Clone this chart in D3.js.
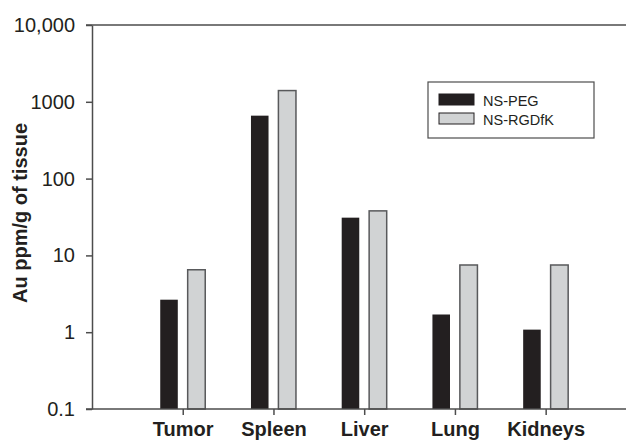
<!DOCTYPE html>
<html lang="en">
  <head>
    <meta charset="UTF-8"/>
    <title>Au biodistribution</title>
    <script src="https://d3js.org/d3.v7.min.js"></script>
    <style>
        body {
          margin: 0;
          font-family: "Liberation Sans", Arial, sans-serif;
        }
        .axis path,
        .axis line {
          fill: none;
          stroke: #4d4d4d;
          stroke-width: 1.5;
        }
        .axis text {
          fill: #231f20;
          font-family: "Liberation Sans", Arial, sans-serif;
        }
    </style>
  </head>
  <body>
    <script>
        // data
        const categories = ["Tumor", "Spleen", "Liver", "Lung", "Kidneys"]
        const series = ["NS-PEG", "NS-RGDfK"]
        const pegValues = [2.65, 660, 31, 1.7, 1.08]
        const rgdValues = [6.5, 1400, 38, 7.5, 7.5]
        const yTicks = [0.1, 1, 10, 100, 1000, 10000]
        const yTickLabels = ["0.1", "1", "10", "100", "1000", "10,000"]
        const colors = ["#231f20", "#d1d3d4"]

        const svgWidth = 626,
          svgHeight = 440,
          plotLeft = 92,
          plotTop = 25,
          plotBottom = 409

        const svg = d3.select("body").append("svg")
            .attr("width", svgWidth)
            .attr("height", svgHeight)

        // log y scale, one decade ~77px
        const y = d3.scaleLog()
            .domain([0.1, 10000])
            .range([plotBottom, plotTop])

        // category positions, one empty slot either side
        const x = d3.scalePoint()
            .domain(categories)
            .range([plotLeft, 636.4])
            .padding(1)

        // offset of each series inside a group
        const xs = d3.scaleBand()
            .domain(series)
            .range([-22.5, 22.5])
            .paddingInner(0.36)

        const rows = categories.map((c, i) => ({cat: c, values: [pegValues[i], rgdValues[i]]}))

        // bars
        const groups = svg.append("g").selectAll("g")
            .data(rows)
            .join("g")
            .attr("transform", d => `translate(${x(d.cat)},0)`)

        groups.selectAll("rect")
            .data(d => d.values.map((v, j) => ({s: series[j], v: v, j: j})))
            .join("rect")
            .attr("x", d => xs(d.s))
            .attr("width", xs.bandwidth())
            .attr("y", d => y(d.v))
            .attr("height", d => plotBottom - y(d.v))
            .attr("fill", d => colors[d.j])
            .attr("stroke", d => d.j === 1 ? "#58595b" : "none")
            .attr("stroke-width", 1.5)

        // y axis
        const yAxis = d3.axisLeft(y)
            .tickValues(yTicks)
            .tickFormat((d, i) => yTickLabels[i])
            .tickSize(6)
            .tickSizeOuter(0)
            .tickPadding(11)

        svg.append("g")
            .attr("class", "axis")
            .attr("transform", `translate(${plotLeft},0)`)
            .call(yAxis)
            .selectAll("text")
            .style("font-size", "20px")

        // x axis
        const xAxis = d3.axisBottom(x)
            .tickSize(6)
            .tickSizeOuter(0)

        const gx = svg.append("g")
            .attr("class", "axis")
            .attr("transform", `translate(0,${plotBottom})`)
            .call(xAxis)

        gx.select(".domain").attr("d", `M${plotLeft - 6},0H${svgWidth}`)
        gx.selectAll("text")
            .attr("y", 27)
            .attr("dy", null)
            .style("font-size", "20px")
            .style("font-weight", "bold")

        // top frame line
        svg.append("line")
            .attr("x1", plotLeft - 6)
            .attr("x2", svgWidth)
            .attr("y1", plotTop)
            .attr("y2", plotTop)
            .attr("stroke", "#4d4d4d")
            .attr("stroke-width", 1.5)

        // y title
        svg.append("text")
            .attr("transform", `translate(27,213) rotate(-90)`)
            .attr("text-anchor", "middle")
            .style("font-size", "20px")
            .style("font-weight", "bold")
            .attr("fill", "#231f20")
            .text("Au ppm/g of tissue")

        // legend
        const legend = svg.append("g")
            .attr("transform", "translate(428,82)")

        legend.append("rect")
            .attr("width", 166)
            .attr("height", 56)
            .attr("fill", "none")
            .attr("stroke", "#4d4d4d")
            .attr("stroke-width", 1.2)

        const items = legend.selectAll(".item")
            .data(series)
            .join("g")
            .attr("class", "item")
            .attr("transform", (d, i) => `translate(11,${12 + i * 19})`)

        items.append("rect")
            .attr("width", 35)
            .attr("height", 11)
            .attr("fill", (d, i) => colors[i])
            .attr("stroke", "#231f20")
            .attr("stroke-width", 1)

        items.append("text")
            .attr("x", 44)
            .attr("y", 11.5)
            .style("font-size", "14.5px")
            .attr("fill", "#231f20")
            .text(d => d)
    </script>
  </body>
</html>
